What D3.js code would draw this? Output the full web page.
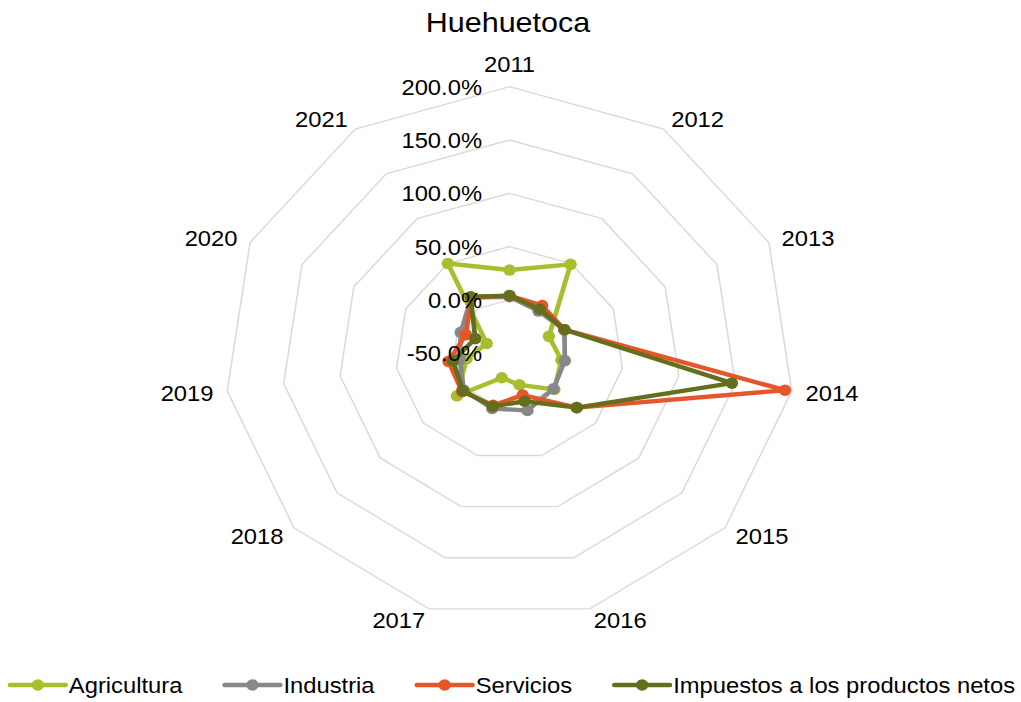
<!DOCTYPE html>
<html>
<head>
<meta charset="utf-8">
<script src="https://cdn.jsdelivr.net/npm/d3@7"></script>
<style>
  html, body { margin: 0; padding: 0; background: #fff; }
  svg { display: block; }
  text { font-family: "Liberation Sans", Arial, sans-serif; fill: #000; }
</style>
</head>
<body>
<svg id="chart" width="1021" height="702"></svg>
<script>
// ---- data ----
const title = "Huehuetoca";
const categories = ["2011","2012","2013","2014","2015","2016","2017","2018","2019","2020","2021"];
const seriesNames = ["Agricultura", "Industria", "Servicios", "Impuestos a los productos netos"];
const agricultura = [28, 49, -12, -4, 2, -19, -26, 11, -12, -28, 50];
const industria   = [3, -3, 3, -1, 1, 6, 4, 3, -6, -3, 12];
const servicios   = [4, 3, 3, 194, 28, -9, 1, 5, 4, -8, 12];
const impuestos   = [4, -1, 3, 147, 28, -3, 2, 4, 0, -17, 13];
const tickValues = [-50, 0, 50, 100, 150, 200];
const tickLabels = ["-50.0%", "0.0%", "50.0%", "100.0%", "150.0%", "200.0%"];
const colors = ["#A7BF2D", "#888888", "#E5562A", "#636F1C"];

// ---- layout ----
const W = 1021, H = 702, SX = 1.07;
const cx = 509.5 / SX, cy = 353.2, R = 266.5;
const FS = 22.2;

const svg = d3.select("#chart");
const root = svg.append("g").attr("transform", `scale(${SX},1)`);

const r = d3.scaleLinear().domain([-50, 200]).range([0, R]);
const ang = d3.scalePoint().domain(d3.range(categories.length + 1)).range([0, 2 * Math.PI]);
const a = i => ang(i);

const plot = root.append("g").attr("transform", `translate(${cx},${cy})`);

// grid rings
const ring = d3.lineRadial().curve(d3.curveLinearClosed);
plot.append("g").selectAll("path").data(tickValues.filter(v => v > -50)).join("path")
  .attr("d", v => ring(categories.map((c, i) => [a(i), r(v)])))
  .attr("fill", "none").attr("stroke", "#D9D9D9").attr("stroke-width", 1.4);

// series
const series = [agricultura, industria, servicios, impuestos];
const line = d3.lineRadial().curve(d3.curveLinearClosed);
series.forEach((vals, s) => {
  const g = plot.append("g");
  g.append("path")
    .attr("d", line(vals.map((v, i) => [a(i), r(v)])))
    .attr("fill", "none").attr("stroke", colors[s]).attr("stroke-width", 4.4)
    .attr("stroke-linejoin", "round");
  g.selectAll("circle").data(vals).join("circle")
    .attr("cx", (v, i) => r(v) * Math.sin(a(i)))
    .attr("cy", (v, i) => -r(v) * Math.cos(a(i)))
    .attr("r", 5.8).attr("fill", colors[s]);
});

// tick labels
plot.append("g").selectAll("text").data(tickValues).join("text")
  .attr("x", -25.7)
  .attr("y", v => -r(v) + 0.36 * FS)
  .attr("text-anchor", "end")
  .attr("font-size", FS)
  .text((v, i) => tickLabels[i]);

// category labels
const catG = plot.append("g");
categories.forEach((c, i) => {
  const ux = Math.sin(a(i)), uy = -Math.cos(a(i));
  const t = catG.append("text").attr("font-size", FS).attr("text-anchor", "middle").text(c);
  const hw = t.node().getComputedTextLength() / 2;
  const hh = 11;
  let x = R * ux + 13 * ux, y = R * uy + 12 * uy;
  if (Math.abs(ux) > 0.01) x += Math.sign(ux) * hw; else y += Math.sign(uy) * hh;
  t.attr("x", x).attr("y", y + 0.36 * FS);
});

// title
root.append("text").attr("x", 508 / SX).attr("y", 32)
  .attr("text-anchor", "middle").attr("font-size", 28.5).text(title);

// legend
const leg = root.append("g");
let lx = 10 / SX;
const ly = 685, lineLen = 52;
seriesNames.forEach((name, s) => {
  leg.append("line").attr("x1", lx).attr("x2", lx + lineLen).attr("y1", ly).attr("y2", ly)
    .attr("stroke", colors[s]).attr("stroke-width", 4.4).attr("stroke-linecap", "round");
  leg.append("circle").attr("cx", lx + lineLen / 2).attr("cy", ly).attr("r", 5.8).attr("fill", colors[s]);
  const t = leg.append("text").attr("x", lx + lineLen + 3).attr("y", ly + 0.36 * FS)
    .attr("font-size", FS).text(name);
  lx += lineLen + 3 + t.node().getComputedTextLength() + 39.5;
});
</script>
</body>
</html>
